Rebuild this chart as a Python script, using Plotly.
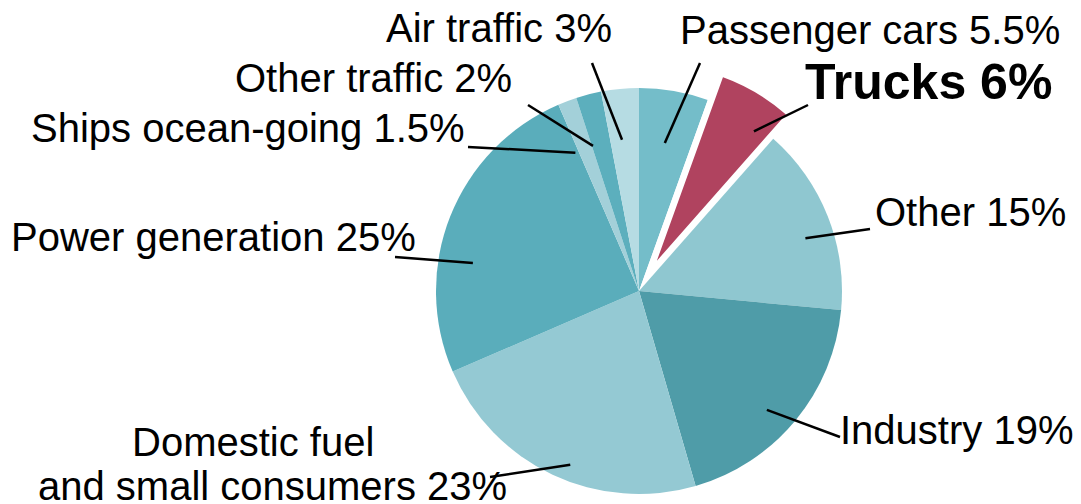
import math
import plotly.graph_objects as go

# ---- data ----
categories = ["Passenger cars", "Trucks", "Other", "Industry",
              "Domestic fuel and small consumers", "Power generation",
              "Ships ocean-going", "Other traffic", "Air traffic"]
shares = [5.5, 6, 15, 19, 23, 25, 1.5, 2, 3]
label_texts = [["Passenger cars 5.5%"], ["<b>Trucks 6%</b>"], ["Other 15%"], ["Industry 19%"],
               ["Domestic fuel", "and small consumers 23%"], ["Power generation 25%"],
               ["Ships ocean-going 1.5%"], ["Other traffic 2%"], ["Air traffic 3%"]]

# ---- style ----
PAGE_MARGIN = 8                      # default body margin of the html page
W, H = 1081 - PAGE_MARGIN, 504 - PAGE_MARGIN
CX, CY, R = 639, 291, 203            # in screenshot pixels
PULL = 0.14
HIGHLIGHT = 1
colors = ["#74bdc9", "#b0435f", "#8fc7d0", "#4f9ca8", "#94c9d3",
          "#5aadbb", "#a3d0d9", "#5cafbd", "#b6dce3"]
FONT = "Arial, Liberation Sans, sans-serif"
FS = 40
# per label: (radius fraction, angle tweak deg, outer line end px, text anchors [(x, y, xanchor)], size)
label_style = [
    (0.74, 0.0, (700, 63), [(678, 30, "left")], FS),
    (0.83, 6.0, (808, 105), [(803, 82, "left")], 50),
    (0.86, 4.0, (870, 229), [(873, 212, "left")], FS),
    (0.86, 3.3, (840, 437), [(838, 430, "left")], FS),
    (0.92, -3.6, (490, 477), [(253, 442, "center"), (272, 486, "center")], FS),
    (0.83, -12.0, (395, 257), [(418, 237, "right")], FS),
    (0.75, -4.0, (468, 147), [(467, 128, "right")], FS),
    (0.75, -3.2, (528, 105), [(514, 78, "right")], FS),
    (0.75, -1.0, (592, 63), [(614, 28, "right")], FS),
]

def px2paper(x, y):
    return (x - PAGE_MARGIN) / W, 1 - (y - PAGE_MARGIN) / H

total = sum(shares)
mids = []
acc = 0.0
for v in shares:
    mids.append((acc + v / 2) / total * 360.0)
    acc += v

# offset of the pulled slice, derived from its mid angle
ang = math.radians(mids[HIGHLIGHT])
dx, dy = PULL * R * math.sin(ang), -PULL * R * math.cos(ang)

def domain(cx, cy):
    x0, y1 = px2paper(cx - R, cy - R)
    x1, y0 = px2paper(cx + R, cy + R)
    return dict(x=[max(0, x0), min(1, x1)], y=[max(0, y0), min(1, y1)])

main_colors = [("white" if i == HIGHLIGHT else c) for i, c in enumerate(colors)]
hl_colors = [(c if i == HIGHLIGHT else "rgba(0,0,0,0)") for i, c in enumerate(colors)]
hl_lines = [("white" if i == HIGHLIGHT else "rgba(0,0,0,0)") for i in range(len(colors))]

fig = go.Figure()
fig.add_trace(go.Pie(labels=categories, values=shares, sort=False, direction="clockwise",
                     rotation=0, textinfo="none", hoverinfo="label+percent",
                     marker=dict(colors=main_colors, line=dict(width=0)),
                     domain=domain(CX, CY), showlegend=False))
fig.add_trace(go.Pie(labels=categories, values=shares, sort=False, direction="clockwise",
                     rotation=0, textinfo="none", hoverinfo="skip",
                     marker=dict(colors=hl_colors, line=dict(color=hl_lines, width=2.5)),
                     domain=domain(CX + dx, CY + dy), showlegend=False))

shapes, annotations = [], []
for i, (f, dth, (ox, oy), anchors, size) in enumerate(label_style):
    a = math.radians(mids[i] + dth)
    cx, cy = CX, CY
    if i == HIGHLIGHT:
        cx, cy = CX + dx, CY + dy
    ix = cx + f * R * math.sin(a)
    iy = cy - f * R * math.cos(a)
    x0, y0 = px2paper(ix, iy)
    x1, y1 = px2paper(ox, oy)
    shapes.append(dict(type="line", xref="paper", yref="paper", x0=x0, y0=y0, x1=x1, y1=y1,
                       line=dict(color="black", width=2.5)))
    for txt, (tx, ty, xa) in zip(label_texts[i], anchors):
        px_, py_ = px2paper(tx, ty)
        annotations.append(dict(text=txt, x=px_, y=py_, xref="paper", yref="paper",
                                xanchor=xa, yanchor="middle", showarrow=False,
                                font=dict(family=FONT, size=size, color="black")))

fig.update_layout(width=W, height=H, autosize=False,
                  margin=dict(l=0, r=0, t=0, b=0),
                  paper_bgcolor="white", plot_bgcolor="white",
                  shapes=shapes, annotations=annotations)
fig.write_html("out.html")
